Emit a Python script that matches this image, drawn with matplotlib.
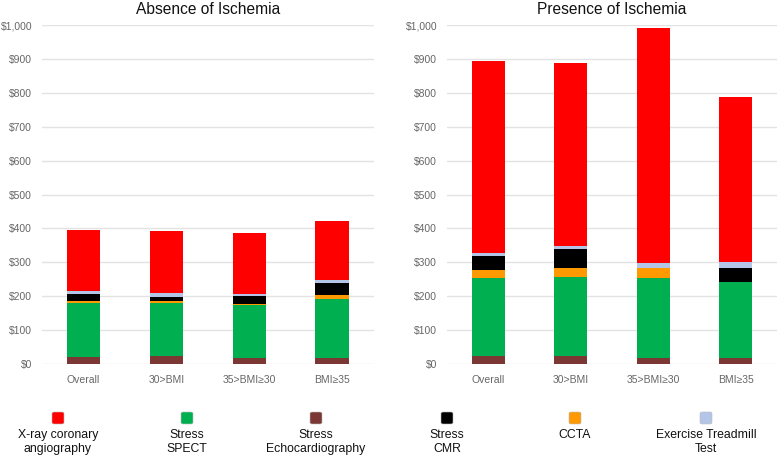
import matplotlib
matplotlib.use("Agg")
import matplotlib.pyplot as plt
import numpy as np
from matplotlib.patches import FancyBboxPatch
from matplotlib.ticker import FuncFormatter

plt.rcParams["font.family"] = ["Liberation Sans", "DejaVu Sans"]

CATEGORIES = ["Overall", "30>BMI", "35>BMI\u226530", "BMI\u226535"]

# cost per test type, stacked bottom -> top
ABS_ECHO = [20, 24, 18, 17]
ABS_SPECT = [160, 155, 154, 174]
ABS_CCTA = [6, 7, 4, 11]
ABS_CMR = [21, 12, 23, 35]
ABS_ETT = [9, 11, 6, 9]
ABS_XRAY = [179, 182, 180, 177]

PRES_ECHO = [22, 24, 18, 16]
PRES_SPECT = [230, 231, 236, 226]
PRES_CCTA = [25, 29, 29, 0]
PRES_CMR = [40, 55, 0, 41]
PRES_ETT = [11, 9, 14, 17]
PRES_XRAY = [567, 542, 695, 488]

STACK_KEYS = ["echo", "spect", "ccta", "cmr", "ett", "xray"]
COLORS = {
    "xray": "#FF0000",
    "spect": "#00B050",
    "echo": "#7B3733",
    "cmr": "#000000",
    "ccta": "#FF9900",
    "ett": "#B4C6E7",
}
LABELS = {
    "xray": "X-ray coronary\nangiography",
    "spect": "Stress\nSPECT",
    "echo": "Stress\nEchocardiography",
    "cmr": "Stress\nCMR",
    "ccta": "CCTA",
    "ett": "Exercise Treadmill\nTest",
}
LEGEND_ORDER = ["xray", "spect", "echo", "cmr", "ccta", "ett"]

panels = [
    ("Absence of Ischemia", dict(zip(STACK_KEYS, [ABS_ECHO, ABS_SPECT, ABS_CCTA, ABS_CMR, ABS_ETT, ABS_XRAY]))),
    ("Presence of Ischemia", dict(zip(STACK_KEYS, [PRES_ECHO, PRES_SPECT, PRES_CCTA, PRES_CMR, PRES_ETT, PRES_XRAY]))),
]

fig = plt.figure(figsize=(7.8, 4.58), dpi=100)
H = 458.0
ax_bottom = 1 - 363.7 / H
ax_height = (363.7 - 25.3) / H
axes = [
    fig.add_axes([42 / 780, ax_bottom, (373.5 - 42) / 780, ax_height]),
    fig.add_axes([447 / 780, ax_bottom, (777 - 447) / 780, ax_height]),
]

money = FuncFormatter(lambda v, p: f"${v:,.0f}")
x = np.arange(len(CATEGORIES))

for ax, (title, data) in zip(axes, panels):
    bottom = np.zeros(len(CATEGORIES))
    for key in STACK_KEYS:
        vals = np.array(data[key], dtype=float)
        ax.bar(x, vals, 0.4, bottom=bottom, color=COLORS[key], linewidth=0, zorder=3)
        bottom += vals
    ax.set_xlim(-0.5, 3.5)
    ax.set_ylim(0, 1000)
    ax.set_yticks(np.arange(0, 1001, 100))
    ax.yaxis.set_major_formatter(money)
    ax.set_xticks(x)
    ax.set_xticklabels(CATEGORIES)
    ax.grid(axis="y", color="#E3E3E3", linewidth=1, zorder=0)
    ax.tick_params(length=0, labelsize=7.5, colors="#666666")
    ax.tick_params(axis="x", pad=8)
    ax.tick_params(axis="y", pad=7)
    for s in ax.spines.values():
        s.set_visible(False)
    ax.set_title(title, fontsize=11.2, color="#111111", pad=8)

# legend: swatch above two-line label, six columns
col_x = [58, 187, 316, 447, 575, 706]
for cx, key in zip(col_x, LEGEND_ORDER):
    w, h = 12 / 780, 12 / H
    patch = FancyBboxPatch((cx / 780 - w / 2, 1 - 424 / H), w, h,
                           boxstyle="round,pad=0,rounding_size=0.003",
                           transform=fig.transFigure, facecolor=COLORS[key],
                           edgecolor="#BBBBBB", linewidth=0.4)
    fig.add_artist(patch)
    fig.text(cx / 780, 1 - 429 / H, LABELS[key], ha="center", va="top",
             fontsize=8.8, color="#111111", linespacing=1.2)

fig.savefig("out.png", dpi=100)
